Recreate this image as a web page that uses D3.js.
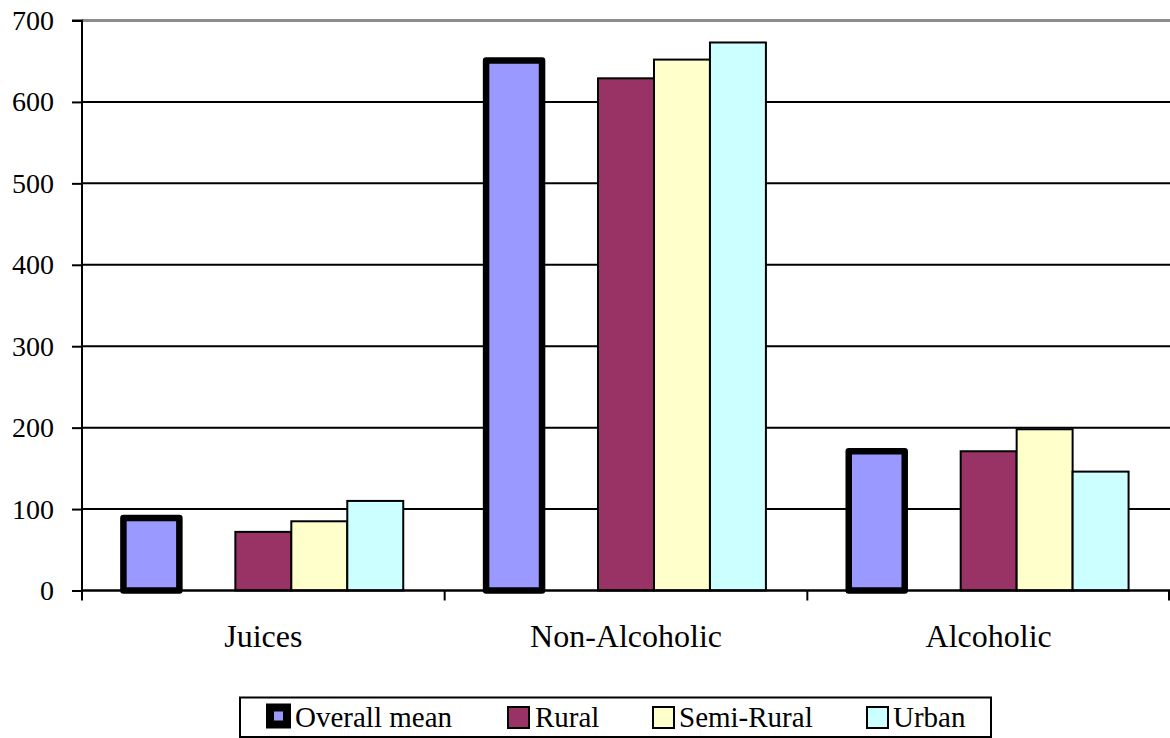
<!DOCTYPE html>
<html>
<head>
<meta charset="utf-8">
<script src="https://cdn.jsdelivr.net/npm/d3@7"></script>
</head>
<body style="margin:0">
<svg id="chart" width="1170" height="738" font-family="Liberation Serif, Times New Roman, Tinos, sans-serif"></svg>
<script>
// Beverage consumption by category and area type
const categories = ["Juices", "Non-Alcoholic", "Alcoholic"];
const seriesNames = ["Overall mean", "Rural", "Semi-Rural", "Urban"];
const overallMean = [89, 651, 171];
const rural = [72, 629, 171];
const semiRural = [85, 652, 198];
const urban = [110, 673, 146];
const yTicks = [0, 100, 200, 300, 400, 500, 600, 700];
const seriesColors = ["#9999FF", "#993366", "#FFFFCC", "#CCFFFF"];

const seriesValues = [overallMean, rural, semiRural, urban];
// slot layout inside each category: the mean bar, an empty slot, then the three area bars
const slotKeys = ["Overall mean", "__spacer", "Rural", "Semi-Rural", "Urban"];

const textFont = "Liberation Serif";

const svg = d3.select("#chart");
const plot = { left: 82, right: 1170, top: 20.5, bottom: 590.5 };

const x0 = d3.scaleBand().domain(categories).range([plot.left, plot.right]).paddingInner(0).paddingOuter(0);
const x1 = d3.scaleBand().domain(slotKeys).range([0, x0.bandwidth()]).paddingInner(0).paddingOuter(0.74);
const y = d3.scaleLinear().domain([0, 700]).range([plot.bottom, plot.top]);

// horizontal gridlines
svg.append("g").selectAll("line")
  .data(yTicks.filter(d => d > 0))
  .join("line")
  .attr("x1", plot.left).attr("x2", plot.right)
  .attr("y1", d => y(d)).attr("y2", d => y(d))
  .attr("stroke", d => d === 700 ? "#8c8c8c" : "#000")
  .attr("stroke-width", d => d === 700 ? 3 : 2);

// bars
const rows = [];
categories.forEach((c, i) => {
  seriesNames.forEach((s, j) => rows.push({ cat: c, series: s, value: seriesValues[j][i], idx: j }));
});

const bars = svg.append("g");
bars.selectAll("rect")
  .data(rows.filter(r => r.idx > 0))
  .join("rect")
  .attr("x", d => x0(d.cat) + x1(d.series))
  .attr("width", x1.bandwidth())
  .attr("y", d => y(d.value))
  .attr("height", d => y(0) - y(d.value))
  .attr("fill", d => seriesColors[d.idx])
  .attr("stroke", "#000")
  .attr("stroke-width", 2);

// y axis
const yAxis = d3.axisLeft(y).tickValues(yTicks).tickSize(10).tickPadding(18).tickFormat(d3.format("d"));
const gy = svg.append("g").attr("transform", `translate(${plot.left},0)`).call(yAxis);
gy.attr("font-family", null).attr("font-size", null);
gy.select(".domain").attr("stroke", "#000").attr("stroke-width", 2).attr("d", `M-10,${plot.top}H0V${plot.bottom}`);
gy.selectAll(".tick line").attr("stroke", "#000").attr("stroke-width", 2);
gy.selectAll(".tick text")
  .attr("fill", "#000")
  .style("font-family", d => `"${textFont}"`)
  .style("font-size", "28px");

// x axis: category boundary ticks and centered labels
const boundaries = categories.map(c => x0(c)).concat([plot.right - 1]);
const gx = svg.append("g");
gx.append("line")
  .attr("x1", plot.left).attr("x2", plot.right)
  .attr("y1", y(0)).attr("y2", y(0))
  .attr("stroke", "#000").attr("stroke-width", 2.5);
gx.selectAll("line.bt")
  .data(boundaries)
  .join("line").attr("class", "bt")
  .attr("x1", d => d).attr("x2", d => d)
  .attr("y1", y(0)).attr("y2", y(0) + 10)
  .attr("stroke", "#000").attr("stroke-width", 2);
gx.selectAll("text")
  .data(categories)
  .join("text")
  .attr("x", d => x0(d) + x0.bandwidth() / 2)
  .attr("y", 647)
  .attr("text-anchor", "middle")
  .style("font-family", d => `"${textFont}"`)
  .style("font-size", "32px")
  .text(d => d);

// overall mean bars drawn last with heavy outline
bars.append("g").selectAll("rect")
  .data(rows.filter(r => r.idx === 0))
  .join("rect")
  .attr("x", d => x0(d.cat) + x1(d.series))
  .attr("width", x1.bandwidth())
  .attr("y", d => y(d.value))
  .attr("height", d => y(0) - y(d.value))
  .attr("fill", seriesColors[0])
  .attr("stroke", "#000")
  .attr("stroke-width", 6.5)
  .attr("stroke-linejoin", "round");

// legend
const legend = svg.append("g");
legend.append("rect")
  .attr("x", 240).attr("y", 697.5).attr("width", 751).attr("height", 39.5)
  .attr("fill", "#fff").attr("stroke", "#000").attr("stroke-width", 2);
const legendItems = [
  { name: seriesNames[0], sx: 270, tx: 295 },
  { name: seriesNames[1], sx: 508, tx: 535 },
  { name: seriesNames[2], sx: 653, tx: 679 },
  { name: seriesNames[3], sx: 867, tx: 893 }
];
legend.selectAll("rect.sw")
  .data(legendItems)
  .join("rect").attr("class", "sw")
  .attr("x", d => d.sx)
  .attr("y", (d, i) => i === 0 ? 707.5 : 707)
  .attr("width", (d, i) => i === 0 ? 17 : 21)
  .attr("height", (d, i) => i === 0 ? 17 : 21)
  .attr("fill", (d, i) => seriesColors[i])
  .attr("stroke", "#000")
  .attr("stroke-width", (d, i) => i === 0 ? 8 : 2);
legend.selectAll("text")
  .data(legendItems)
  .join("text")
  .attr("x", d => d.tx).attr("y", 727)
  .style("font-family", d => `"${textFont}"`)
  .style("font-size", "29px")
  .text(d => d.name);
</script>
</body>
</html>
